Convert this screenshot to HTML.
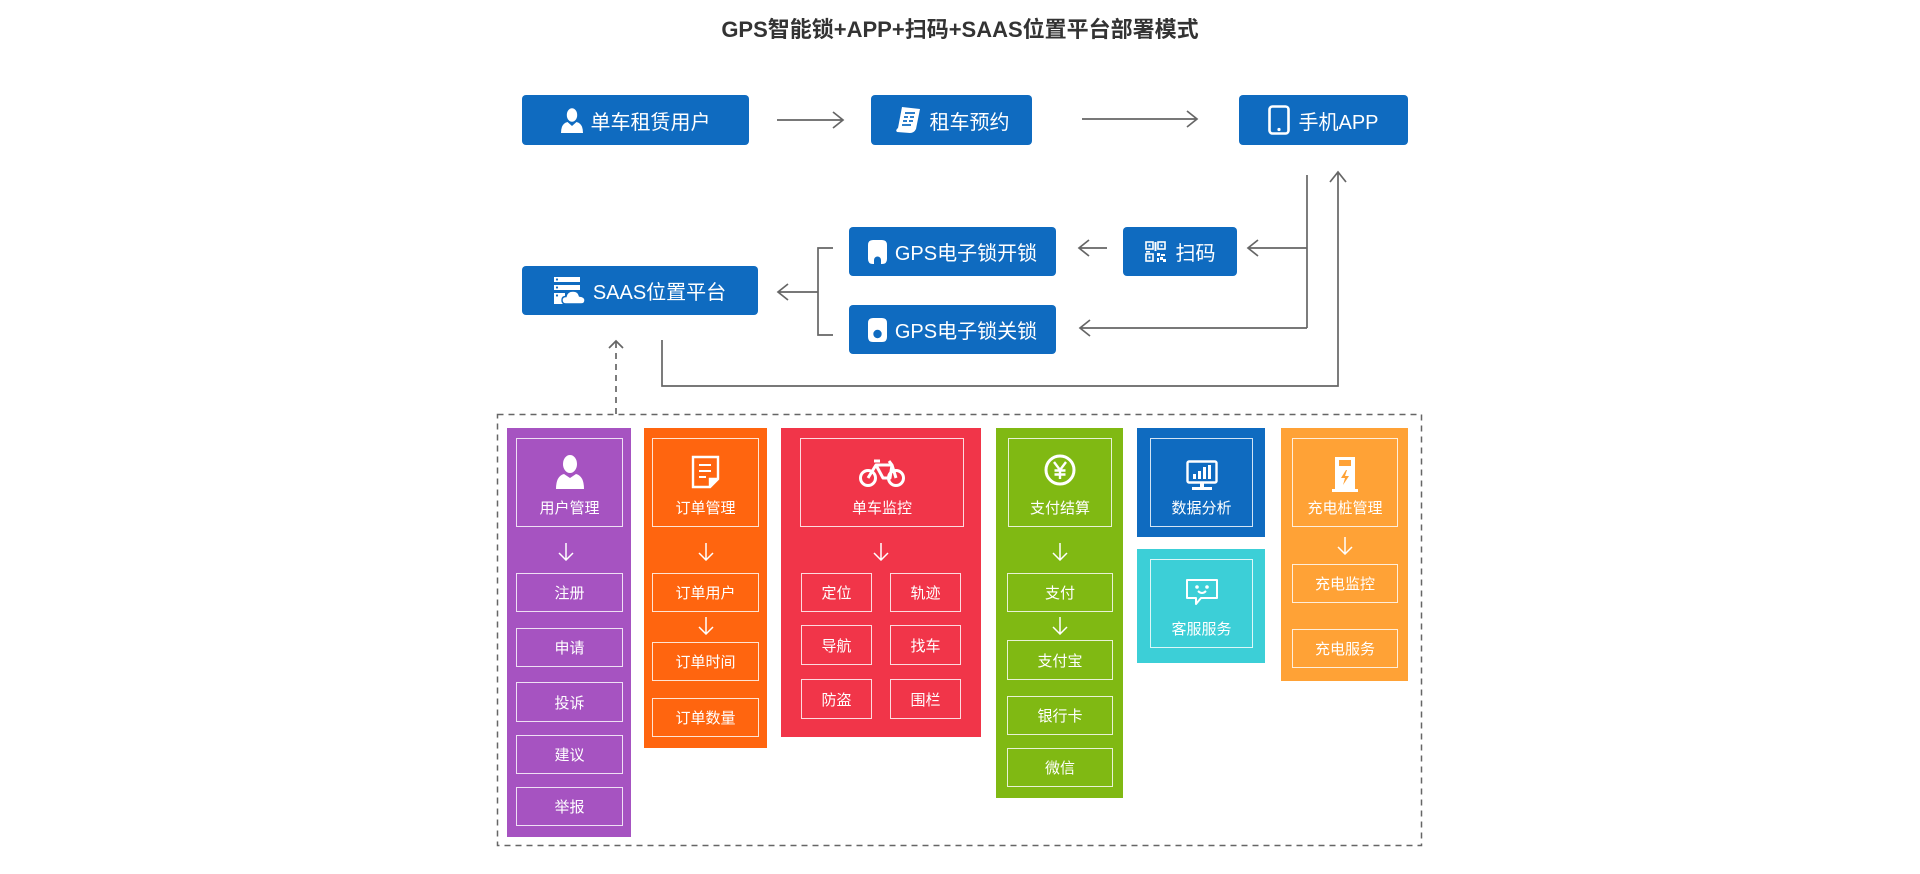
<!DOCTYPE html>
<html><head><meta charset="utf-8">
<style>
*{margin:0;padding:0;box-sizing:border-box}
body{width:1920px;height:874px;background:#fff;position:relative;overflow:hidden;font-family:"Liberation Sans","Noto Sans CJK SC",sans-serif}
.title{position:absolute;left:0;top:17px;width:1920px;text-align:center;font-size:22px;line-height:26px;font-weight:bold;color:#333}
.box{position:absolute;background:#0f6bc0;border-radius:4px;color:#fff;font-size:20px;display:flex;align-items:center;justify-content:center;white-space:nowrap}
.box svg{margin-right:8px;flex:none}
.col{position:absolute}
.ib{position:absolute;border:1px solid rgba(255,255,255,.82);color:#fff;font-size:15px;display:flex;align-items:center;justify-content:center;white-space:nowrap}
.hd{position:absolute;border:1px solid rgba(255,255,255,.82);color:#fff}
.hd .t{position:absolute;left:0;right:0;top:60px;line-height:20px;font-size:15px;text-align:center;white-space:nowrap}
.hd .ic{position:absolute;left:0;right:0;text-align:center}
.arr{position:absolute}
</style></head><body>
<div class="title">GPS智能锁+APP+扫码+SAAS位置平台部署模式</div>

<!-- Top row -->
<div class="box" style="left:522px;top:95px;width:227px;height:50px">
<svg width="22" height="25" viewBox="0 0 22 25"><ellipse cx="11" cy="7" rx="5.2" ry="6.8" fill="#fff"/><path d="M0 25 Q0 15.5 6.5 14 L11 18 L15.5 14 Q22 15.5 22 25Z" fill="#fff"/></svg>
<span>单车租赁用户</span></div>

<div class="box" style="left:871px;top:95px;width:161px;height:50px">
<svg width="28" height="30" viewBox="0 0 28 30"><path d="M8 2 L26 4 L22 24 Q20 28 16 28 L3 27 Q1 25 4 23 L8 2Z" fill="#fff"/><path d="M11 8h10M10 12h4M16 12h4M9 16h4M15 16h4M8 20h9" stroke="#0f6bc0" stroke-width="1.8"/></svg>
<span>租车预约</span></div>

<div class="box" style="left:1239px;top:95px;width:169px;height:50px">
<svg width="22" height="30" viewBox="0 0 22 30"><rect x="1.5" y="1.5" width="19" height="27" rx="3" fill="none" stroke="#fff" stroke-width="2.6"/><rect x="4" y="4" width="14" height="18" fill="none"/><circle cx="11" cy="24.5" r="1.6" fill="#fff"/></svg>
<span>手机APP</span></div>

<!-- Row 2 -->
<div class="box" style="left:849px;top:227px;width:207px;height:49px">
<svg width="19" height="24" viewBox="0 0 19 24"><path d="M0 5 Q0 0 5 0 H14 Q19 0 19 5 V19 Q19 24 14 24 H13 V20 A3.5 3.5 0 1 0 6 20 V24 H5 Q0 24 0 19Z" fill="#fff"/></svg>
<span>GPS电子锁开锁</span></div>

<div class="box" style="left:1123px;top:227px;width:114px;height:49px">
<svg width="21" height="21" viewBox="0 0 21 21" style="margin-right:10px"><g fill="none" stroke="#fff" stroke-width="1.6"><rect x="1" y="1" width="7" height="7"/><rect x="13" y="1" width="7" height="7"/><rect x="1" y="13" width="7" height="7"/></g><g fill="#fff"><rect x="3.5" y="3.5" width="2" height="2"/><rect x="15.5" y="3.5" width="2" height="2"/><rect x="3.5" y="15.5" width="2" height="2"/><rect x="12" y="12" width="3" height="3"/><rect x="16" y="13" width="4" height="2"/><rect x="12" y="17" width="2" height="4"/><rect x="15" y="16" width="3" height="3"/><rect x="18" y="18" width="3" height="3"/><rect x="1" y="10" width="4" height="1.6"/><rect x="9.5" y="1" width="2" height="9"/></g></svg>
<span>扫码</span></div>

<div class="box" style="left:849px;top:305px;width:207px;height:49px">
<svg width="19" height="24" viewBox="0 0 19 24"><path d="M0 5 Q0 0 5 0 H14 Q19 0 19 5 V19 Q19 24 14 24 H5 Q0 24 0 19Z" fill="#fff"/><circle cx="9.5" cy="16" r="4.2" fill="#0f6bc0"/></svg>
<span>GPS电子锁关锁</span></div>

<div class="box" style="left:522px;top:266px;width:236px;height:49px">
<svg width="31" height="27" viewBox="0 0 31 27"><g fill="#fff"><rect x="0" y="0" width="26" height="5"/><rect x="0" y="8" width="26" height="5"/><rect x="0" y="16" width="11" height="11"/><path d="M12 27 Q8 27 8 23 Q8 19.5 12 19.5 Q13 14 19 14 Q24.5 14 25.5 19 Q31 19.5 31 23.2 Q31 27 27 27Z"/></g><g fill="#0f6bc0"><circle cx="3" cy="2.5" r="1.1"/><circle cx="3" cy="10.5" r="1.1"/><circle cx="3" cy="18.5" r="1.1"/></g><path d="M12 27 Q8 27 8 23 Q8 19.5 12 19.5 Q13 14 19 14 Q24.5 14 25.5 19 Q31 19.5 31 23.2 Q31 27 27 27Z" fill="none" stroke="#0f6bc0" stroke-width="1.4"/></svg>
<span>SAAS位置平台</span></div>

<!-- Connectors -->
<svg width="1920" height="874" style="position:absolute;left:0;top:0" fill="none" stroke="#666" stroke-width="1.7">
<path d="M777 120H843M833 112L843 120L833 128"/>
<path d="M1082 119H1197M1187 111L1197 119L1187 127"/>
<path d="M1307 175V328"/>
<path d="M1307 248H1248M1258 240L1248 248L1258 256"/>
<path d="M1307 328H1080M1090 320L1080 328L1090 336"/>
<path d="M1107 248H1079M1089 240L1079 248L1089 256"/>
<path d="M833 248H818V335H833"/>
<path d="M818 292H778M788 284L778 292L788 300"/>
<path d="M662 340V386H1338V172M1330 182L1338 172L1346 182"/>
<path d="M616 414V341" stroke-dasharray="6 5"/>
<path d="M609 348L616 341L623 348"/>
<rect x="497.5" y="414.5" width="924" height="431" stroke-dasharray="6 5" stroke-width="1.5"/>
</svg>

<!-- Purple column -->
<div class="col" style="left:507px;top:428px;width:124px;height:409px;background:#a653c1"></div>
<div class="hd" style="left:516px;top:438px;width:107px;height:89px">
<div class="ic" style="top:16px"><svg width="28" height="34" viewBox="0 0 28 34"><ellipse cx="14" cy="9" rx="7" ry="9" fill="#fff"/><path d="M0 34 Q0 21 8 19 L14 23 L20 19 Q28 21 28 34Z" fill="#fff"/></svg></div>
<div class="t">用户管理</div></div>
<svg class="arr" style="left:558px;top:543px" width="16" height="18" viewBox="0 0 16 18" fill="none" stroke="#fff" stroke-width="1.5"><path d="M8 0V17M1 10L8 17L15 10"/></svg>
<div class="ib" style="left:516px;top:573px;width:107px;height:39px">注册</div>
<div class="ib" style="left:516px;top:628px;width:107px;height:39px">申请</div>
<div class="ib" style="left:516px;top:682px;width:107px;height:40px">投诉</div>
<div class="ib" style="left:516px;top:735px;width:107px;height:39px">建议</div>
<div class="ib" style="left:516px;top:787px;width:107px;height:39px">举报</div>

<!-- Orange column -->
<div class="col" style="left:644px;top:428px;width:123px;height:320px;background:#ff650f"></div>
<div class="hd" style="left:652px;top:438px;width:107px;height:89px">
<div class="ic" style="top:16px"><svg width="30" height="34" viewBox="0 0 30 34" fill="none" stroke="#fff" stroke-width="2.4"><path d="M2 2H27V24L19 32H2Z"/><path d="M19 32V24H27" fill="#fff"/><path d="M8 10H20M8 16H20M8 22H15" stroke-width="2"/></svg></div>
<div class="t">订单管理</div></div>
<svg class="arr" style="left:698px;top:543px" width="16" height="18" viewBox="0 0 16 18" fill="none" stroke="#fff" stroke-width="1.5"><path d="M8 0V17M1 10L8 17L15 10"/></svg>
<div class="ib" style="left:652px;top:573px;width:107px;height:39px">订单用户</div>
<svg class="arr" style="left:698px;top:617px" width="16" height="18" viewBox="0 0 16 18" fill="none" stroke="#fff" stroke-width="1.5"><path d="M8 0V17M1 10L8 17L15 10"/></svg>
<div class="ib" style="left:652px;top:642px;width:107px;height:39px">订单时间</div>
<div class="ib" style="left:652px;top:698px;width:107px;height:39px">订单数量</div>

<!-- Red column -->
<div class="col" style="left:781px;top:428px;width:200px;height:309px;background:#f13549"></div>
<div class="hd" style="left:800px;top:438px;width:164px;height:89px">
<div class="ic" style="top:20px"><svg width="46" height="28" viewBox="0 0 46 28" fill="none" stroke="#fff" stroke-width="3"><circle cx="9" cy="19" r="7.5"/><circle cx="37" cy="19" r="7.5"/><path d="M9 19L17 6H33L37 19M17 6L24 19H31L33 6M15 2H21M30 2L33 6" stroke-linejoin="round"/></svg></div>
<div class="t">单车监控</div></div>
<svg class="arr" style="left:873px;top:543px" width="16" height="18" viewBox="0 0 16 18" fill="none" stroke="#fff" stroke-width="1.5"><path d="M8 0V17M1 10L8 17L15 10"/></svg>
<div class="ib" style="left:801px;top:573px;width:71px;height:39px">定位</div>
<div class="ib" style="left:890px;top:573px;width:71px;height:39px">轨迹</div>
<div class="ib" style="left:801px;top:625px;width:71px;height:40px">导航</div>
<div class="ib" style="left:890px;top:625px;width:71px;height:40px">找车</div>
<div class="ib" style="left:801px;top:679px;width:71px;height:40px">防盗</div>
<div class="ib" style="left:890px;top:679px;width:71px;height:40px">围栏</div>

<!-- Green column -->
<div class="col" style="left:996px;top:428px;width:127px;height:370px;background:#80b913"></div>
<div class="hd" style="left:1008px;top:438px;width:104px;height:89px">
<div class="ic" style="top:15px"><svg width="32" height="32" viewBox="0 0 32 32"><circle cx="16" cy="16" r="14" fill="none" stroke="#fff" stroke-width="3"/><path d="M10 8L16 16L22 8M16 16V25M10.5 16.5H21.5M10.5 20.5H21.5" fill="none" stroke="#fff" stroke-width="2.4"/></svg></div>
<div class="t">支付结算</div></div>
<svg class="arr" style="left:1052px;top:543px" width="16" height="18" viewBox="0 0 16 18" fill="none" stroke="#fff" stroke-width="1.5"><path d="M8 0V17M1 10L8 17L15 10"/></svg>
<div class="ib" style="left:1007px;top:573px;width:106px;height:39px">支付</div>
<svg class="arr" style="left:1052px;top:617px" width="16" height="18" viewBox="0 0 16 18" fill="none" stroke="#fff" stroke-width="1.5"><path d="M8 0V17M1 10L8 17L15 10"/></svg>
<div class="ib" style="left:1007px;top:640px;width:106px;height:40px">支付宝</div>
<div class="ib" style="left:1007px;top:696px;width:106px;height:39px">银行卡</div>
<div class="ib" style="left:1007px;top:748px;width:106px;height:39px">微信</div>

<!-- Blue column -->
<div class="col" style="left:1137px;top:428px;width:128px;height:109px;background:#0f6bc0"></div>
<div class="hd" style="left:1150px;top:438px;width:103px;height:89px">
<div class="ic" style="top:21px"><svg width="32" height="31" viewBox="0 0 32 31"><rect x="1.5" y="1.5" width="29" height="21" rx="1.5" fill="none" stroke="#fff" stroke-width="2.4"/><g fill="#fff"><rect x="7" y="14" width="3" height="5"/><rect x="12" y="11" width="3" height="8"/><rect x="17" y="7" width="3" height="12"/><rect x="22" y="5" width="3" height="14"/><rect x="14" y="23" width="4" height="4"/><rect x="6" y="27" width="20" height="3"/></g></svg></div>
<div class="t">数据分析</div></div>

<!-- Cyan column -->
<div class="col" style="left:1137px;top:549px;width:128px;height:114px;background:#3ccfd7"></div>
<div class="hd" style="left:1150px;top:559px;width:103px;height:89px">
<div class="ic" style="top:19px"><svg width="32" height="27" viewBox="0 0 32 27" fill="none" stroke="#fff" stroke-width="2"><path d="M1 1H31V19H15L10 25V19H1Z" stroke-linejoin="round"/><circle cx="11" cy="8" r="0.8" fill="#fff"/><circle cx="21" cy="8" r="0.8" fill="#fff"/><path d="M12 12Q16 16 20 12"/></svg></div>
<div class="t">客服服务</div></div>

<!-- Light orange column -->
<div class="col" style="left:1281px;top:428px;width:127px;height:253px;background:#ffa236"></div>
<div class="hd" style="left:1292px;top:438px;width:106px;height:89px">
<div class="ic" style="top:17px"><svg width="28" height="36" viewBox="0 0 28 36"><path d="M4 1H24V33H27V36H1V33H4Z" fill="#fff"/><rect x="8" y="4" width="12" height="6" fill="#ffa236"/><path d="M15 14L10 22H14L12 29L18 20H14L16 14Z" fill="#ffa236"/></svg></div>
<div class="t">充电桩管理</div></div>
<svg class="arr" style="left:1337px;top:537px" width="16" height="18" viewBox="0 0 16 18" fill="none" stroke="#fff" stroke-width="1.5"><path d="M8 0V17M1 10L8 17L15 10"/></svg>
<div class="ib" style="left:1292px;top:564px;width:106px;height:39px">充电监控</div>
<div class="ib" style="left:1292px;top:629px;width:106px;height:39px">充电服务</div>

</body></html>
